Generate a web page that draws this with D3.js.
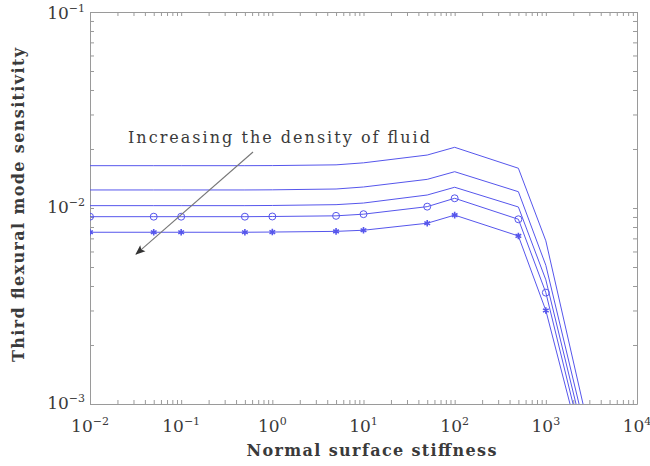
<!DOCTYPE html>
<html>
<head>
<meta charset="utf-8">
<script src="https://cdn.jsdelivr.net/npm/d3@7"></script>
<style>
  body { margin: 0; background: #fff; }
</style>
</head>
<body>
<div id="container"></div>
<script>
// Chart dimensions and margins
const width = 650;
const height = 466;
const marginTop = 12;
const marginRight = 13;
const marginBottom = 62;
const marginLeft = 90;

// Data
const stiffness = [0.01, 0.05, 0.1, 0.5, 1, 5, 10, 50, 100, 500, 1000, 5000];
const seriesA = [0.01644, 0.01644, 0.01644, 0.01644, 0.01646, 0.0166, 0.0170, 0.01863, 0.0204, 0.01595, 0.0068, 0.000255];
const seriesB = [0.01236, 0.01236, 0.01236, 0.01236, 0.01238, 0.0125, 0.0128, 0.0140, 0.01532, 0.01211, 0.0051, 0.000224];
const seriesC = [0.01028, 0.01028, 0.01028, 0.01028, 0.01030, 0.0104, 0.0106, 0.01165, 0.01276, 0.01012, 0.0043, 0.000198];
const seriesD = [0.00903, 0.00903, 0.00903, 0.00903, 0.00905, 0.00912, 0.0093, 0.01016, 0.01121, 0.00876, 0.0037, 0.000173];
const seriesE = [0.00752, 0.00752, 0.00752, 0.00752, 0.00754, 0.0076, 0.0077, 0.00836, 0.0092, 0.0072, 0.0030, 0.000166];
const markers = ["none", "none", "none", "circle", "star"];
const xTickLabels = [-2, -1, 0, 1, 2, 3, 4];
const yTickLabels = [-3, -2, -1];

// Annotation (data coordinates)
const noteText = "Increasing the density of fluid";
const notePos = [0.0261, 0.0215];
const arrowFrom = [0.614, 0.0193];
const arrowTo = [0.032, 0.00582];

const lineColor = "#5656ec";
const textColor = "#3a3a3a";
const axisColor = "#9a9a9a";

const x = d3.scaleLog()
    .domain([1e-2, 1e4])
    .range([marginLeft, width - marginRight]);

const y = d3.scaleLog()
    .domain([1e-3, 1e-1])
    .range([height - marginBottom, marginTop]);

const svg = d3.select("#container")
    .append("svg")
    .attr("width", width)
    .attr("height", height)
    .style("font-family", "'DejaVu Serif', serif");

const defs = svg.append("defs");
defs.append("clipPath")
    .attr("id", "clip")
    .append("rect")
    .attr("x", marginLeft)
    .attr("y", marginTop)
    .attr("width", width - marginLeft - marginRight)
    .attr("height", height - marginTop - marginBottom);

defs.append("marker")
    .attr("id", "arrow")
    .attr("viewBox", "0 0 10 10")
    .attr("refX", 9).attr("refY", 5)
    .attr("markerWidth", 10).attr("markerHeight", 10)
    .attr("markerUnits", "userSpaceOnUse")
    .attr("orient", "auto")
    .append("path")
    .attr("d", "M0,1 L10,5 L0,9 L2,5 Z")
    .attr("fill", "#333");

// all log ticks (major and minor)
function logTicks(lo, hi) {
  const t = [];
  for (let e = lo; e < hi; e++) {
    for (let m = 1; m < 10; m++) t.push(m * Math.pow(10, e));
  }
  t.push(Math.pow(10, hi));
  return t;
}
const xt = logTicks(-2, 4);
const yt = logTicks(-3, -1);

function styleAxis(g) {
  g.select(".domain").attr("stroke", axisColor);
  g.selectAll(".tick line").attr("stroke", axisColor);
  g.selectAll(".tick text").remove();
}

// frame: bottom, top, left, right
svg.append("g")
    .attr("transform", `translate(0,${height - marginBottom})`)
    .call(d3.axisBottom(x).tickValues(xt).tickSizeInner(-4).tickSizeOuter(0))
    .call(styleAxis);
svg.append("g")
    .attr("transform", `translate(0,${marginTop})`)
    .call(d3.axisTop(x).tickValues(xt).tickSizeInner(-4).tickSizeOuter(0))
    .call(styleAxis);
svg.append("g")
    .attr("transform", `translate(${marginLeft},0)`)
    .call(d3.axisLeft(y).tickValues(yt).tickSizeInner(-4).tickSizeOuter(0))
    .call(styleAxis);
svg.append("g")
    .attr("transform", `translate(${width - marginRight},0)`)
    .call(d3.axisRight(y).tickValues(yt).tickSizeInner(-4).tickSizeOuter(0))
    .call(styleAxis);

// tick labels 10^n
const xl = svg.append("g").selectAll("text")
    .data(xTickLabels)
    .enter()
    .append("text")
    .attr("x", d => x(Math.pow(10, d)))
    .attr("y", height - marginBottom + 28)
    .attr("text-anchor", "middle")
    .attr("fill", textColor)
    .style("font-size", "17px");
xl.append("tspan").text("10");
xl.append("tspan").attr("dy", -7).style("font-size", "11px")
    .text(d => d < 0 ? "\u2212" + Math.abs(d) : d);

const yl = svg.append("g").selectAll("text")
    .data(yTickLabels)
    .enter()
    .append("text")
    .attr("x", marginLeft - 5)
    .attr("y", d => y(Math.pow(10, d)) + (d === -1 ? 7 : 5))
    .attr("text-anchor", "end")
    .attr("fill", textColor)
    .style("font-size", "17px");
yl.append("tspan").text("10");
yl.append("tspan").attr("dy", -7).style("font-size", "11px")
    .text(d => d < 0 ? "\u2212" + Math.abs(d) : d);

// axis titles
svg.append("text")
    .attr("x", (marginLeft + width - marginRight) / 2 + 8)
    .attr("y", height - 10)
    .attr("text-anchor", "middle")
    .attr("fill", textColor)
    .attr("textLength", 250)
    .attr("lengthAdjust", "spacing")
    .style("font-size", "16px")
    .style("font-weight", "bold")
    .text("Normal surface stiffness");

svg.append("text")
    .attr("transform", `translate(24,${(marginTop + height - marginBottom) / 2 - 3}) rotate(-90)`)
    .attr("text-anchor", "middle")
    .attr("fill", textColor)
    .attr("textLength", 314)
    .attr("lengthAdjust", "spacing")
    .style("font-size", "16px")
    .style("font-weight", "bold")
    .text("Third flexural mode sensitivity");

// lines
const allSeries = [seriesA, seriesB, seriesC, seriesD, seriesE];
const line = d3.line()
    .x((d, i) => x(stiffness[i]))
    .y(d => y(d));

const plot = svg.append("g").attr("clip-path", "url(#clip)");

plot.selectAll("path.series")
    .data(allSeries)
    .enter()
    .append("path")
    .attr("class", "series")
    .attr("d", line)
    .attr("fill", "none")
    .attr("stroke", lineColor)
    .attr("stroke-width", 1);

allSeries.forEach((s, k) => {
  if (markers[k] === "none") return;
  const pts = s.map((v, i) => ({ x: stiffness[i], v: v }));
  const sym = markers[k] === "circle"
    ? d3.symbol(d3.symbolCircle, 38)
    : d3.symbol(d3.symbolAsterisk, 30);
  plot.selectAll(null)
      .data(pts)
      .enter()
      .append("path")
      .attr("transform", d => `translate(${x(d.x)},${y(d.v)})`)
      .attr("d", sym)
      .attr("fill", markers[k] === "circle" ? "none" : lineColor)
      .attr("stroke", lineColor)
      .attr("stroke-width", markers[k] === "circle" ? 1 : 1.6);
});

// annotation
svg.append("line")
    .attr("x1", x(arrowFrom[0]))
    .attr("y1", y(arrowFrom[1]))
    .attr("x2", x(arrowTo[0]))
    .attr("y2", y(arrowTo[1]))
    .attr("stroke", "#777")
    .attr("stroke-width", 1.1)
    .attr("marker-end", "url(#arrow)");

svg.append("text")
    .attr("x", x(notePos[0]))
    .attr("y", y(notePos[1]))
    .attr("fill", textColor)
    .attr("textLength", 302)
    .attr("lengthAdjust", "spacing")
    .style("font-size", "16px")
    .text(noteText);
</script>
</body>
</html>
